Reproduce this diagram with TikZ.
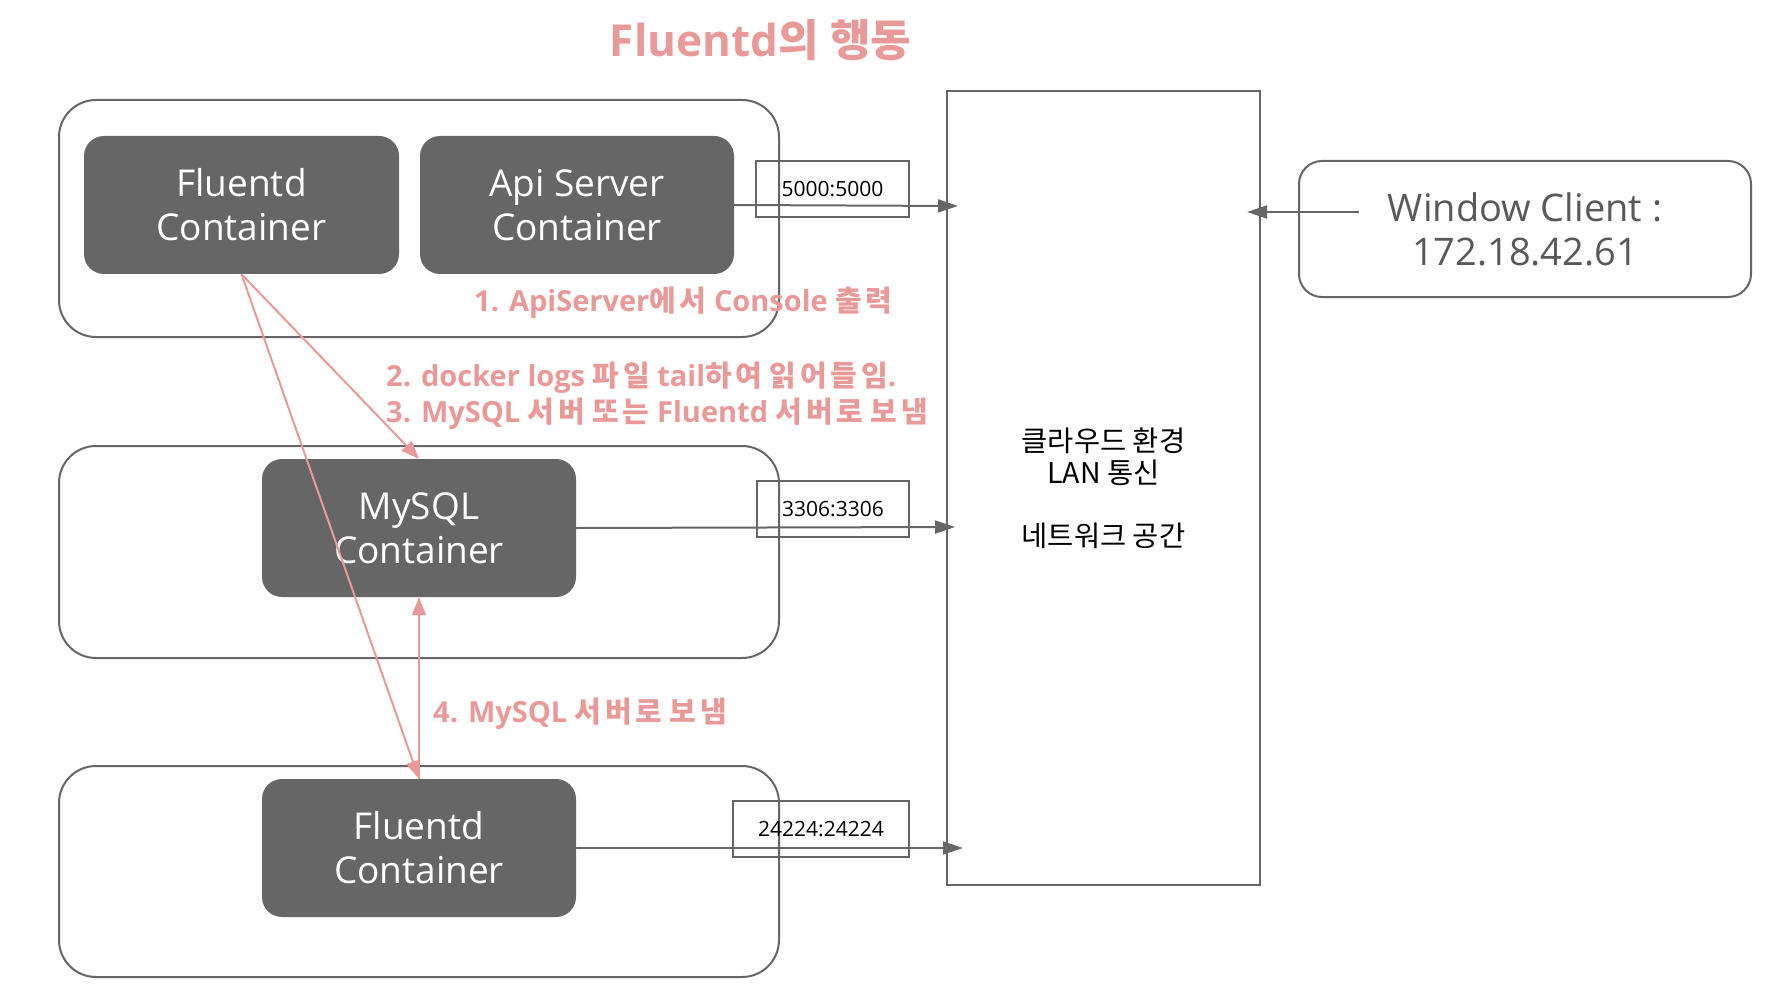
\documentclass[tikz,border=0pt]{standalone}
\usepackage{fontspec}
\setmainfont{Open Sans}
\newfontfamily\krfont{Noto Sans CJK KR}
\newfontfamily\krlbl{Noto Sans CJK KR}[LetterSpace=13]
\usetikzlibrary{arrows.meta}
\definecolor{pinkc}{HTML}{EA9999}
\definecolor{boxgray}{HTML}{666666}
\definecolor{linegray}{HTML}{666666}
\definecolor{wintext}{HTML}{595959}
\newcommand\hk[1]{{\krfont #1}}
\newcommand\hl[1]{{\krlbl #1}}
\begin{document}
\begin{tikzpicture}[x=1pt,y=-1pt,
  outerbox/.style={draw=linegray,line width=2pt,rounded corners=37pt,minimum width=720pt,inner sep=0pt},
  cbox/.style={fill=boxgray,draw=none,rounded corners=20pt,minimum width=314pt,minimum height=138pt,
    text=white,align=center,font=\fontsize{37}{44}\selectfont,inner sep=0pt},
  portbox/.style={draw=linegray,line width=2pt,minimum height=56pt,inner sep=0pt,
    font=\fontsize{21}{25}\selectfont,text=black},
  lbl/.style={text=pinkc,font=\fontsize{29}{36}\selectfont\bfseries,inner sep=0pt,anchor=base west},
  garr/.style={draw=linegray,line width=2pt,-{Triangle[length=20pt,width=13pt]}},
  parr/.style={draw=pinkc,line width=2pt,-{Triangle[length=18pt,width=14pt]}}]
\useasboundingbox (0,0) rectangle (1774,1000);

% title
\node[text=pinkc,font=\fontsize{44}{52}\selectfont\bfseries,inner sep=0pt,anchor=base] (title) at (760.5,57) {Fluentd\hk{의} \hk{행동}};

% outer host boxes
\node[outerbox,minimum height=237pt] (o1) at (419,218.5) {};
\node[outerbox,minimum height=212pt] (o2) at (419,552) {};
\node[outerbox,minimum height=211pt] (o3) at (419,871.5) {};

% containers
\node[cbox,minimum width=315pt] (fl1) at (241.5,205) {Fluentd\\Container};
\node[cbox] (api) at (577,205) {Api Server\\Container};
\node[cbox] (mysql) at (419,528) {MySQL\\Container};
\node[cbox] (fl2) at (419,848) {Fluentd\\Container};

% port boxes
\node[portbox,minimum width=153pt] (p1) at (832.5,189) {5000:5000};
\node[portbox,minimum width=152pt] (p2) at (833,509) {3306:3306};
\node[portbox,minimum width=176pt] (p3) at (821,829) {24224:24224};

% cloud network
\node[draw=linegray,line width=2pt,minimum width=313pt,minimum height=794pt,inner sep=0pt,
  align=center,font={\fontsize{28.5}{32}\krfont}] (cloud) at (1103.5,488)
  {클라우드 환경\\LAN 통신\\[31pt]네트워크 공간};

% window client
\node[draw=linegray,line width=2pt,rounded corners=23pt,minimum width=452pt,minimum height=136pt,
  inner sep=0pt,align=center,text=wintext,font=\fontsize{38}{44}\selectfont] (win) at (1525,229)
  {Window Client :\\172.18.42.61};

% labels
\node[lbl] (l1) at (474,311) {1. ApiServer\hl{에서} Console \hl{출력}};
\node[lbl] (l2) at (386,386) {2. docker logs \hl{파일} tail\hl{하여} \hl{읽어들임}.};
\node[lbl] (l3) at (386,422) {3. MySQL \hl{서버} \hl{또는} Fluentd \hl{서버로} \hl{보냄}};
\node[lbl] (l4) at (433,722) {4. MySQL \hl{서버로} \hl{보냄}};

% gray connectors
\coordinate (a1) at (958,206);
\coordinate (a2) at (955,527);
\coordinate (a3) at (963,848);
\coordinate (w0) at (1359,212);
\coordinate (a4) at (1247,212);
\draw[garr] (api.east) -- (a1);
\draw[garr] (mysql.east) -- (a2);
\draw[garr] (fl2.east) -- (a3);
\draw[garr] (w0) -- (a4);

% pink connectors
\draw[parr] (fl1.south) -- (mysql.north);
\draw[parr] (fl1.south) -- (fl2.north);
\draw[parr] (fl2.north) -- (mysql.south);
\end{tikzpicture}
\end{document}
